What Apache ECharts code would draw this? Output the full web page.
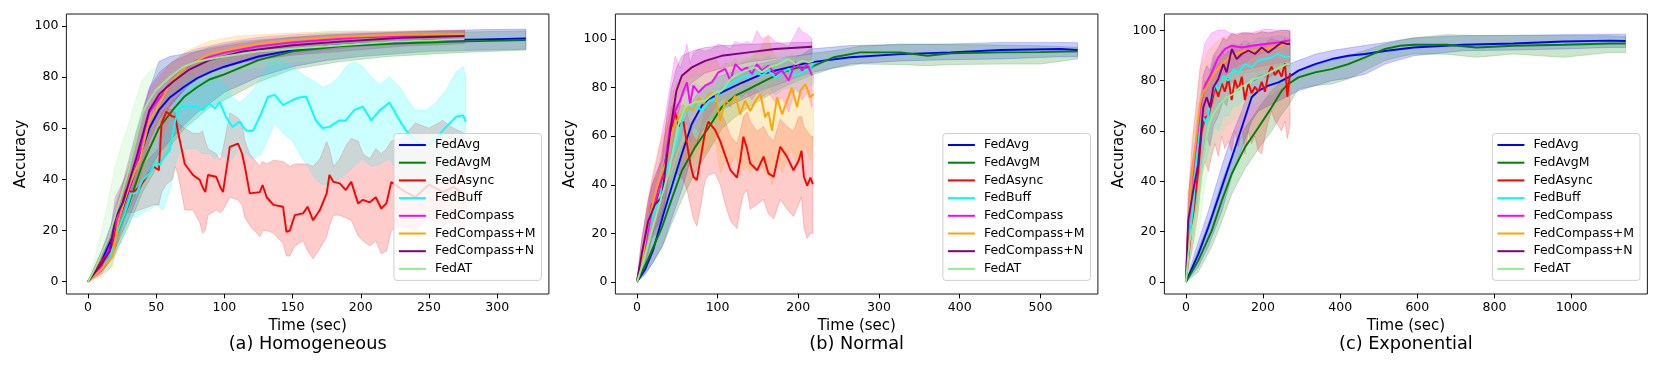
<!DOCTYPE html>
<html>
<head>
<meta charset="utf-8">
<script src="https://cdn.jsdelivr.net/npm/echarts@6/dist/echarts.min.js"></script>
<style>
  html, body { margin: 0; padding: 0; background: #fff; }
  #chart { width: 1661px; height: 369px; }
</style>
</head>
<body>
<div id="chart"></div>
<script>
// series names and matplotlib colours
const names = ['FedAvg', 'FedAvgM', 'FedAsync', 'FedBuff', 'FedCompass', 'FedCompass+M', 'FedCompass+N', 'FedAT'];
const colors = ['#0000ff', '#008000', '#ff0000', '#00ffff', '#ff00ff', '#ffa500', '#800080', '#90ee90'];

const accTicks = [0, 20, 40, 60, 80, 100];
const homoTicks = [0, 50, 100, 150, 200, 250, 300];
const normTicks = [0, 100, 200, 300, 400, 500];
const expoTicks = [0, 200, 400, 600, 800, 1000];

// each row: [time, mean, lower, upper]
// (a) Homogeneous
const homoAvg = [[0,0,0,0],[10,8,5,12],[20,20,13,27],[30,36,25,45],[40,52,38,66],[45,60,44,75],[52,67,50,86],[60,72,55,88],[70,76,61,89],[80,79.5,66,90],[90,82,70,91],[100,84,74,92],[125,88,80,94],[150,90.5,84,95.5],[175,92,86.5,96.5],[200,93,88,97],[250,94.3,90,98],[290,94.7,90.5,98.5],[321,95,90.8,98.7]];
const homoAvgM = [[0,0,0,0],[10,7,4,11],[20,17,11,24],[30,30.6,22,40],[40,46,35,57],[52,60,46,72],[62,67,54,80],[71,72.5,60,84],[80,76,64,86],[89,79,68,88],[100,81,71,89.5],[125,86.6,78,92],[150,90,83,94],[185,92,86,95.5],[220,93,88,96.5],[270,93.8,89.5,97.5],[321,94.4,90.5,98]];
const homoAsync = [[0,0,0,0],[10,8,5,12],[18,14,9,22],[22,24,16,32],[28,35.8,27,42],[33,35,27,42],[38,37,28,44],[43,41,29,47],[48,45,30,50],[52,43.6,30,52],[54,62,35,66],[57.5,66.4,38,68],[62,64.5,40,67],[64,64.5,45,66],[66,58.6,42,62],[71,46,28,60],[77,41.7,28,58],[82,39.7,23,58],[84,37,19,59],[86,35,20,55],[88,41.7,26,52],[94,41,28,50],[97,37,27,47.5],[99,35,28,52],[104,52.7,33,66],[110,54,32,64],[113,50,30,62],[115,45,25,55],[118.6,34.5,22,50],[126,35,17.6,45],[128,37.8,20,47],[131,33,20,46],[136,30,19,47.5],[143,29.3,15,47],[145.5,19.5,10,46],[148,20,10,45],[151.6,26,14,46],[157.7,26.7,16,46],[161,29.3,12,46],[165,24,9,45],[170,28,13,48],[175,34.5,17.6,54.7],[177,41.7,22,52],[180,39,26,45],[184.6,38.4,26,48],[189,35.8,25,53],[193,39,24,56],[198,30.6,18,55],[201.6,32,16,50],[206.5,31,14,48],[211,33,16,52],[215,28.6,11,50],[218.8,30.6,12,52],[222.4,39,20,55],[230,36,22,56],[240,33,20,62],[250,38,25,60],[260,35,22,63],[268,37,24,60],[276,34,20,58]];
const homoBuff = [[0,0,0,0],[10,6,3,10],[16,9,5,15],[22,20,13,28],[27,26.7,20,34],[31.8,34.5,26,40],[35.5,34.5,25,42],[40,39.7,27,46],[45,42.3,28,48],[50,46.9,30,52],[52.6,45.6,29,54],[55,48,28,56],[60,51.4,36,62],[63.5,62,45,70],[67,68.4,50,76],[72,68.4,52,80],[79.5,68.4,52,80],[84,67,50,78],[89,69.7,50,80],[93,67.7,48,80],[96.6,70.3,50,79],[101,64.5,48,77],[106,60.5,48,72],[111,62.5,52,70],[116,59,50,72],[121,59,48,75],[127,65.8,50,80],[132,72.3,56,85],[137,73,62,87],[143,69,58,86],[150,71,55,84],[155,72,50,82],[160,72.3,46,80],[167,63,40,78],[172,60,38,76],[177,60.5,38,77],[184,63,40,80],[189,63,42,84],[195,67,45,86],[201.6,68.4,48,84],[207.7,63,45,80],[214,67,46,77],[221,70,48,80],[228.5,63,42,76],[233.3,59,38,72],[240,55,35,67],[248,53,34,67],[255,56,36,70],[262.6,60.5,40,75],[270,64.5,45,82],[275,65,48,84],[277,62.5,46,80]];
const homoCompass = [[0,0,0,0],[10,6,3,10],[17,15,9,22],[20,22,14,30],[25,30,22,38],[30,36,28,45],[35,44,34,55],[40,56,44,66],[45,66,54,75],[50,70,60,79],[60,77,68,85],[70,83,75,89],[80,86.5,80,91],[100,89.5,84,93.5],[125,92,87,95.5],[150,93.5,89,96.5],[200,95.5,92,97.5],[250,96.3,93,98],[276,96.6,93.5,98.3]];
const homoCompassM = [[0,0,0,0],[10,5,2,9],[18,9.8,6,16],[22,23,15,30],[30.5,38,30,46],[38,47.5,38,58],[45,63,50,72],[50,67,57,77],[60,77.5,69,85],[72,84,78,90],[89,89,84,94],[110,91.5,87,96],[126,93,89,96.5],[150,94.5,91,97.2],[185,95.7,92.5,97.8],[230,96.5,93.5,98],[276,96.8,94,98.3]];
const homoCompassN = [[0,0,0,0],[10,7,4,11],[16,12,8,18],[20,25,16,33],[25.7,31,24,39],[35,47.5,37,58],[45,67,55,76],[52.6,73.5,64,82],[62,78,70,86],[74.6,83,77,89],[89,86.6,82,91.5],[113.7,90,86,94],[150,92.4,88.5,95.5],[185,93.8,90,96.5],[230,95.3,92,97.5],[276,96,93,98]];
const homoAT = [[0,0,0,0],[5,5,2,9],[10,11,5,20],[15,17,9,32],[20,26,15,45],[25,35,21,54],[30,44,28,62],[35,55,36,71],[40,66,45,79],[45,71,54,82],[50,75,60,84],[60,80,70,87],[70,84,75,89],[80,86,78,91],[100,88,82,93],[125,90,84,95],[150,91,86,96],[175,92,87,98],[200,93,88,98],[225,93.8,89,97.5],[250,94.3,89.5,97.5],[276,94.8,90,97.5]];

// (b) Normal
const normAvg = [[0,0,0,0],[10,5,3,9],[20,13,8,20],[33,28,16,38],[43,39,26,50],[55.7,52.7,38,64],[68,65,52,74],[80.5,72.6,62,80],[88.8,75.3,66,82],[105,78,71,85],[130,82,75,88],[155,85.6,79,90],[180,87.7,82,92],[204.7,89.7,85,93.5],[215,90.4,86,95.9],[264.6,92.5,89.7,97.3],[326.7,93.8,91,97.7],[388.8,94.5,91.5,98],[450.8,95.5,91.8,98.6],[525,95.9,92.7,98.6],[546,95.5,92.7,98.5]];
const normAvgM = [[0,0,0,0],[14,9.5,5,15],[31,22.5,14,30],[43,34,24,44],[55.7,45.8,34,56],[72,55.4,45,66],[89,63.6,54,73],[105,71.9,63,80],[122,76.7,68,84],[138.5,79.4,72,87],[159,82.9,76,89],[180,86.3,80,91],[200.5,88.3,83,93],[215,88.3,85,94],[243.7,92.5,88,95.2],[276.6,94.5,89.7,97],[326.7,94.5,89.5,98],[360,93.1,89,97.8],[388.8,94.1,89.5,97.7],[450.8,94.5,89.7,97.5],[500,94.6,89.7,97.2],[546,94.9,91.8,96.6]];
const normAsync = [[0,0,0,0],[8,10,5,15],[14,22.5,12,30],[18.5,32,18,40],[24.6,33.5,20,44],[29,37.6,24,50],[33,45.8,30,58],[39,56,38,66],[43,63,42,72],[47.4,70,45,74],[51.5,64,44,72],[57.7,66,42,73],[62,57,38,70],[66,49,32,64],[70,43.3,26,60],[74.3,42,23,58],[78.5,50,30,62],[84.6,62,42,72],[88.8,66,44,74],[97,62.5,45,74],[103.3,58,40,70],[109.5,52,32,66],[116,46,25,60],[124,43,22,57],[128,50,30,62],[132,59.8,36,68],[136.4,55,38,70],[140.5,48.8,30,66],[149,46,32,62],[157,51.6,34,64],[163,44.7,28,60],[169.5,43.3,26,58],[177.7,55.7,34,67],[186,51.6,30,64],[194,46,27,62],[200.5,50,32,68],[204,54,35,68],[207,43.3,22,64],[211,39.6,18,62],[215,43,20,60],[218,40.3,20,60]];
const normBuff = [[0,0,0,0],[8,10,5,16],[14,21,12,30],[20.5,28,18,38],[26.7,33.5,22,45],[35,44.4,32,56],[45,52.7,40,64],[51.5,59.5,46,70],[57.7,69,55,78],[64,70.5,58,80],[72,73,62,82],[80.5,70.5,60,80],[89,74,64,82],[97,75.3,66,84],[105,79.4,70,86],[113.6,80.8,72,87],[122,82.9,75,89],[130,84.2,77,90],[138.5,85,78,91],[147,86.3,79,92],[155,85,78,91],[163,87,80,93],[171.5,84.2,77,91],[180,86.3,79,92],[188,87.7,80,93],[196.4,85,78,92],[204.7,86.3,79,93],[213,87.7,80,94],[219,89.7,82,95]];
const normCompass = [[0,0,0,0],[5,8,2,15],[10,14,6,25],[18.5,29,18,42],[24.6,35.5,22,50],[35,48.6,32,68],[41,63.6,45,80],[47.4,70.5,52,93],[53.6,74.6,58,88],[57.7,78.7,62,92],[62,82.2,66,98],[66,73.3,58,90],[70,80.8,64,94],[76.4,78,62,96],[84.6,80.8,66,95],[93,82.2,70,96],[101,86.3,74,98],[109.5,87.7,76,97],[115.7,82.9,72,96],[122,89.7,78,99],[130,87,76,98],[136.4,88.3,78,99],[142.6,85.6,75,98],[148.8,89.7,78,103.4],[155,87,76,100],[163,89,78,101.4],[171.5,85.6,74,99],[180,87,76,98],[188,82.9,70,97],[196.4,90.4,80,102],[200.6,89,78,104.8],[204.7,87,75,103],[211,89.7,78,102],[217,85,72,100]];
const normCompassM = [[0,0,0,0],[8,11.5,5,20],[12,21,12,30],[18.5,30.7,20,42],[24.6,39,25,52],[31,45,30,60],[37,50,35,66],[41,58,40,72],[45,63.6,45,78],[49.5,66.4,48,82],[55.7,69,50,85],[64,72,52,88],[70,70.5,50,88],[76.4,76,55,90],[82.6,73.3,52,90],[89,77.4,55,92],[97,78,58,92],[103.3,66.4,45,88],[109.5,74.6,50,90],[115.7,73.3,48,90],[122,76.7,52,92],[128,69,45,90],[134,74.6,48,92],[140.5,70.5,45,92],[147,74.6,48,94],[153,77.4,50,96],[159,67.8,44,100],[163,70,46,101],[167.4,62.3,40,95],[173.6,76,52,92],[180,69,45,90],[186,74.6,50,92],[192,80,55,94],[198.4,72,48,90],[202.6,78.7,52,92],[208.8,81.5,56,93],[215,76,50,92],[219,77.4,62,88]];
const normCompassN = [[0,0,0,0],[6,11.5,5,18],[14,25,16,34],[22.6,32,22,44],[31,34.8,25,50],[37,51,38,68],[43,66,52,80],[49,78.7,66,88],[55.7,84.9,76,93],[68,88.3,82,95],[84.6,91,86,96.5],[105,93.1,88,97.3],[138.5,94.5,90.5,97.8],[171.5,95.9,92,98.3],[217,96.8,93.8,98.8]];
const normAT = [[0,0,0,0],[8,8,3,14],[14,15.6,8,24],[26.7,30.7,20,42],[39,44.4,32,58],[51.5,65,50,76],[60,72,58,82],[72,74,62,84],[84.6,74.6,64,85],[97,78,68,87],[105,78.7,70,88],[118,84.2,75,91],[126,85.6,77,92],[134.3,87,79,93],[147,88.3,80,94],[155,86.3,78,93],[163,88.3,80,94],[175.6,89.7,82,95],[188,91.8,84,96],[196.4,89.7,82,95],[204.7,91,84,96],[213,90.4,83,96],[219,91,84,96]];

// (c) Exponential
const expoAvg = [[0,0,0,0],[32,11,6,16],[58,21.7,14,28],[93,37.6,28,46],[119,49.5,42,58],[145,61.4,53,68],[170.5,73.4,64,79],[188,76,68,82],[214,78,70,83],[240,79.3,72,85],[265.6,81.3,74,86.5],[291.6,84,76,88],[335,86.6,78,90.5],[378,88.6,80,92],[421,89.9,81,93],[464.5,90.6,82.6,94],[516,91.8,86.6,95.2],[590,93.2,89.9,97],[719.5,94.3,91.9,97.9],[849,94.8,92.2,98],[979,95.6,92.6,98.3],[1100,95.9,93.2,98.5],[1140,95.8,93.2,98.5]];
const expoAvgM = [[0,0,0,0],[32,8.5,4,13],[67,20.4,14,27],[93,32.3,24,40],[119,43,35,50],[153,53.5,45,61],[188,61.4,53,69],[222.4,69.4,60,76],[248.5,76,66.7,80],[265.6,78.7,70,82],[291.6,81.3,76.7,84],[335,83.3,78,86],[378,84.6,78.7,88],[421,86.6,80.7,90],[464.5,89.3,84,92],[516,92.6,88,94.6],[555,93.9,89.5,96],[590,94.3,90.6,97],[676,94.3,90.5,98.3],[754,93.2,89.3,98],[849,93.9,90.6,98],[979,94.3,89.3,98],[1100,94.8,91.2,97.9],[1140,94.8,91.2,97.5]];
const expoAsync = [[0,0,0,0],[10,15,8,25],[19,27,15,40],[32,44,28,60],[41,60,42,72],[49.5,65.4,48,80],[58,66,44,78],[66.8,71,50,84],[75.5,77.6,55,88],[84,73.6,50,86],[92.7,79,58,92],[101,75.6,53,90],[110,81,56,92],[118.6,72.3,52,90],[127,80.3,60,94],[136,76.3,54,92],[145,81.6,62,95],[153,72.3,51,92],[162,79,60,95],[170.5,75,55,93],[179,77.6,58,94],[188,75.6,52,93],[196.6,79.6,51,95],[205,75.6,58,94],[214,83,64,96],[222,85.6,68,97],[231,82.2,64,96],[240,84.2,62,96],[248,81.6,60,95],[257,86.9,64,97],[263,73.6,57,95],[270,83,62,96]];
const expoBuff = [[0,0,0,0],[8,16.4,8,26],[19,29.7,18,42],[28,50.9,36,64],[36.6,61.4,46,74],[45,65.4,50,78],[54,62.8,48,76],[62.5,70.7,55,84],[75.5,78.7,62,90],[84,76,60,88],[97,82,66,93],[110,80,66,92],[123,84.6,70,95],[136,83.3,70,94],[153,86.6,74,96],[170.5,85.3,73,95],[188,88,76,97],[205,88.6,78,97],[222,89.3,78,97.5],[240,90.6,80,98],[257,89.3,79,97.5],[270,89.5,80,97]];
const expoCompass = [[0,0,0,0],[6,20,12,30],[15,40,28,52],[28,56,42,72],[36.6,69,55,85],[49.5,78,65,95],[67,83.3,70,99],[84,89.3,78,100],[101.5,92.6,82,100],[119,93.9,84,98.5],[145,93.2,84,99],[170.5,93.9,85,99],[205,94.6,86,100.5],[240,95.2,87,100],[270,96.1,88,100]];
const expoCompassM = [[0,0,0,0],[6,21.7,12,32],[15,41.6,28,55],[28,58.8,45,72],[36.6,70.7,56,84],[45,75.4,62,88],[58,78.7,66,92],[75.5,83.3,72,95],[93,86.6,76,97],[119,89.9,80,98],[153,92,83,98.5],[188,92,84,99],[222,93.2,85,99],[270,94.6,86,99.5]];
const expoCompassN = [[0,0,0,0],[6,24.4,14,35],[19,36.3,24,50],[32,46.9,32,62],[45,69.4,52,82],[54,73.4,58,86],[62.5,69.4,54,84],[71,77.3,62,90],[84,80.7,66,93],[97,86.6,72,97],[105.7,83.3,70,96],[119,92.6,80,99],[131.7,88.6,76,98],[145,90.6,78,99],[162,92,80,99],[179,90.6,80,98.5],[196.6,93.2,82,99.5],[214,91.2,81,99],[231,93.2,83,99.5],[248,95.2,86,100],[261,94.6,86,100],[270,94.6,86,99.5]];
const expoAT = [[0,0,0,0],[10,16.4,6,26],[32,32.3,18,46],[45,49.5,34,62],[58,61.4,46,72],[71,66.7,52,77],[88,70.7,58,80],[105.7,73.4,62,82],[123,74.7,64,84],[140,77.3,67,86],[157.6,78.7,69,87],[175,80.7,71,89],[192,81.3,72,90],[209.4,82.6,74,91],[227,84,75,92],[244,85.3,77,93],[261,86.6,78,94],[270,86.6,78,94]];

const panelData = [
  [homoAvg, homoAvgM, homoAsync, homoBuff, homoCompass, homoCompassM, homoCompassN, homoAT],
  [normAvg, normAvgM, normAsync, normBuff, normCompass, normCompassM, normCompassN, normAT],
  [expoAvg, expoAvgM, expoAsync, expoBuff, expoCompass, expoCompassM, expoCompassN, expoAT]
];

// layout of the three panels (pixels) and axis ranges
const panels = [
  { title: '(a) Homogeneous', left: 66.4, width: 482.5, xMin: -15.8, xMax: 337.9, yMin: -4.8, yMax: 104.6, ticks: homoTicks },
  { title: '(b) Normal', left: 615.4, width: 482.5, xMin: -26.6, xMax: 571.2, yMin: -4.94, yMax: 110.3, ticks: normTicks },
  { title: '(c) Exponential', left: 1164.4, width: 483, xMin: -55.7, xMax: 1196.5, yMin: -4.77, yMax: 106.5, ticks: expoTicks }
];
const TOP = 14, HEIGHT = 280;
const FONT = 'DejaVu Sans';

function hexA(hex, a) {
  const n = parseInt(hex.slice(1), 16);
  return 'rgba(' + (n >> 16) + ',' + ((n >> 8) & 255) + ',' + (n & 255) + ',' + a + ')';
}

// shaded min/max band drawn as one polygon through the axis scales
function bandSeries(rows, color, i) {
  return {
    type: 'custom', xAxisIndex: i, yAxisIndex: i, silent: true, z: 1, clip: true,
    data: [[rows[0][0], rows[0][2]]],
    encode: { x: 0, y: 1 },
    renderItem: (params, api) => {
      const upper = rows.map(r => api.coord([r[0], r[3]]));
      const lower = rows.slice().reverse().map(r => api.coord([r[0], r[2]]));
      return {
        type: 'polygon',
        shape: { points: upper.concat(lower) },
        style: { fill: hexA(color, 0.2), stroke: hexA(color, 0.25), lineWidth: 0.8 }
      };
    }
  };
}

const grids = [], xAxes = [], yAxes = [], legends = [], titles = [], series = [];

panels.forEach((p, i) => {
  grids.push({ left: p.left, top: TOP, width: p.width, height: HEIGHT, show: true,
    borderColor: '#1a1a1a', borderWidth: 1, backgroundColor: 'transparent' });
  xAxes.push({
    type: 'value', gridIndex: i, min: p.xMin, max: p.xMax,
    name: 'Time (sec)', nameLocation: 'middle', nameGap: 24,
    nameTextStyle: { fontSize: 15, color: '#000', fontFamily: FONT },
    axisLine: { show: false, onZero: false },
    axisTick: { show: true, inside: false, length: 4.4, customValues: p.ticks, lineStyle: { color: '#000', width: 1 } },
    axisLabel: { customValues: p.ticks, fontSize: 12.5, color: '#000', fontFamily: FONT, margin: 7,
      formatter: v => String(v) },
    splitLine: { show: false }
  });
  yAxes.push({
    type: 'value', gridIndex: i, min: p.yMin, max: p.yMax,
    name: 'Accuracy', nameLocation: 'middle', nameGap: 38,
    nameTextStyle: { fontSize: 15, color: '#000', fontFamily: FONT },
    axisLine: { show: false, onZero: false },
    axisTick: { show: true, inside: false, length: 4.4, customValues: accTicks, lineStyle: { color: '#000', width: 1 } },
    axisLabel: { customValues: accTicks, fontSize: 12.5, color: '#000', fontFamily: FONT, margin: 8,
      formatter: v => String(v) },
    splitLine: { show: false }
  });
  legends.push({
    orient: 'vertical', left: p.left + p.width - 155, top: 133.5,
    data: names, itemWidth: 27, itemHeight: 14, itemGap: 4.7,
    itemStyle: { opacity: 0 },
    textStyle: { fontSize: 12.5, color: '#000', fontFamily: FONT, padding: [0, 0, 0, 4] },
    backgroundColor: 'rgba(255,255,255,0.8)', borderColor: '#d0d0d0', borderWidth: 1, borderRadius: 3,
    padding: [5, 6, 5, 4], selectedMode: false
  });
  titles.push({
    text: p.title, left: p.left + p.width / 2, top: 335, textAlign: 'center', padding: 0,
    textStyle: { fontSize: 17.7, fontWeight: 'normal', color: '#000', fontFamily: FONT }
  });

  panelData[i].forEach((rows, k) => series.push(bandSeries(rows, colors[k], i)));
  panelData[i].forEach((rows, k) => {
    series.push({
      type: 'line', name: names[k], xAxisIndex: i, yAxisIndex: i,
      data: rows.map(r => [r[0], r[1]]), symbol: 'none', z: 3,
      color: colors[k], lineStyle: { color: colors[k], width: 1.9 }
    });
  });
});

const chart = echarts.init(document.getElementById('chart'), null, { renderer: 'canvas' });
chart.setOption({
  animation: false,
  backgroundColor: '#fff',
  textStyle: { fontFamily: FONT },
  title: titles,
  legend: legends,
  grid: grids,
  xAxis: xAxes,
  yAxis: yAxes,
  series: series
});
</script>
</body>
</html>
